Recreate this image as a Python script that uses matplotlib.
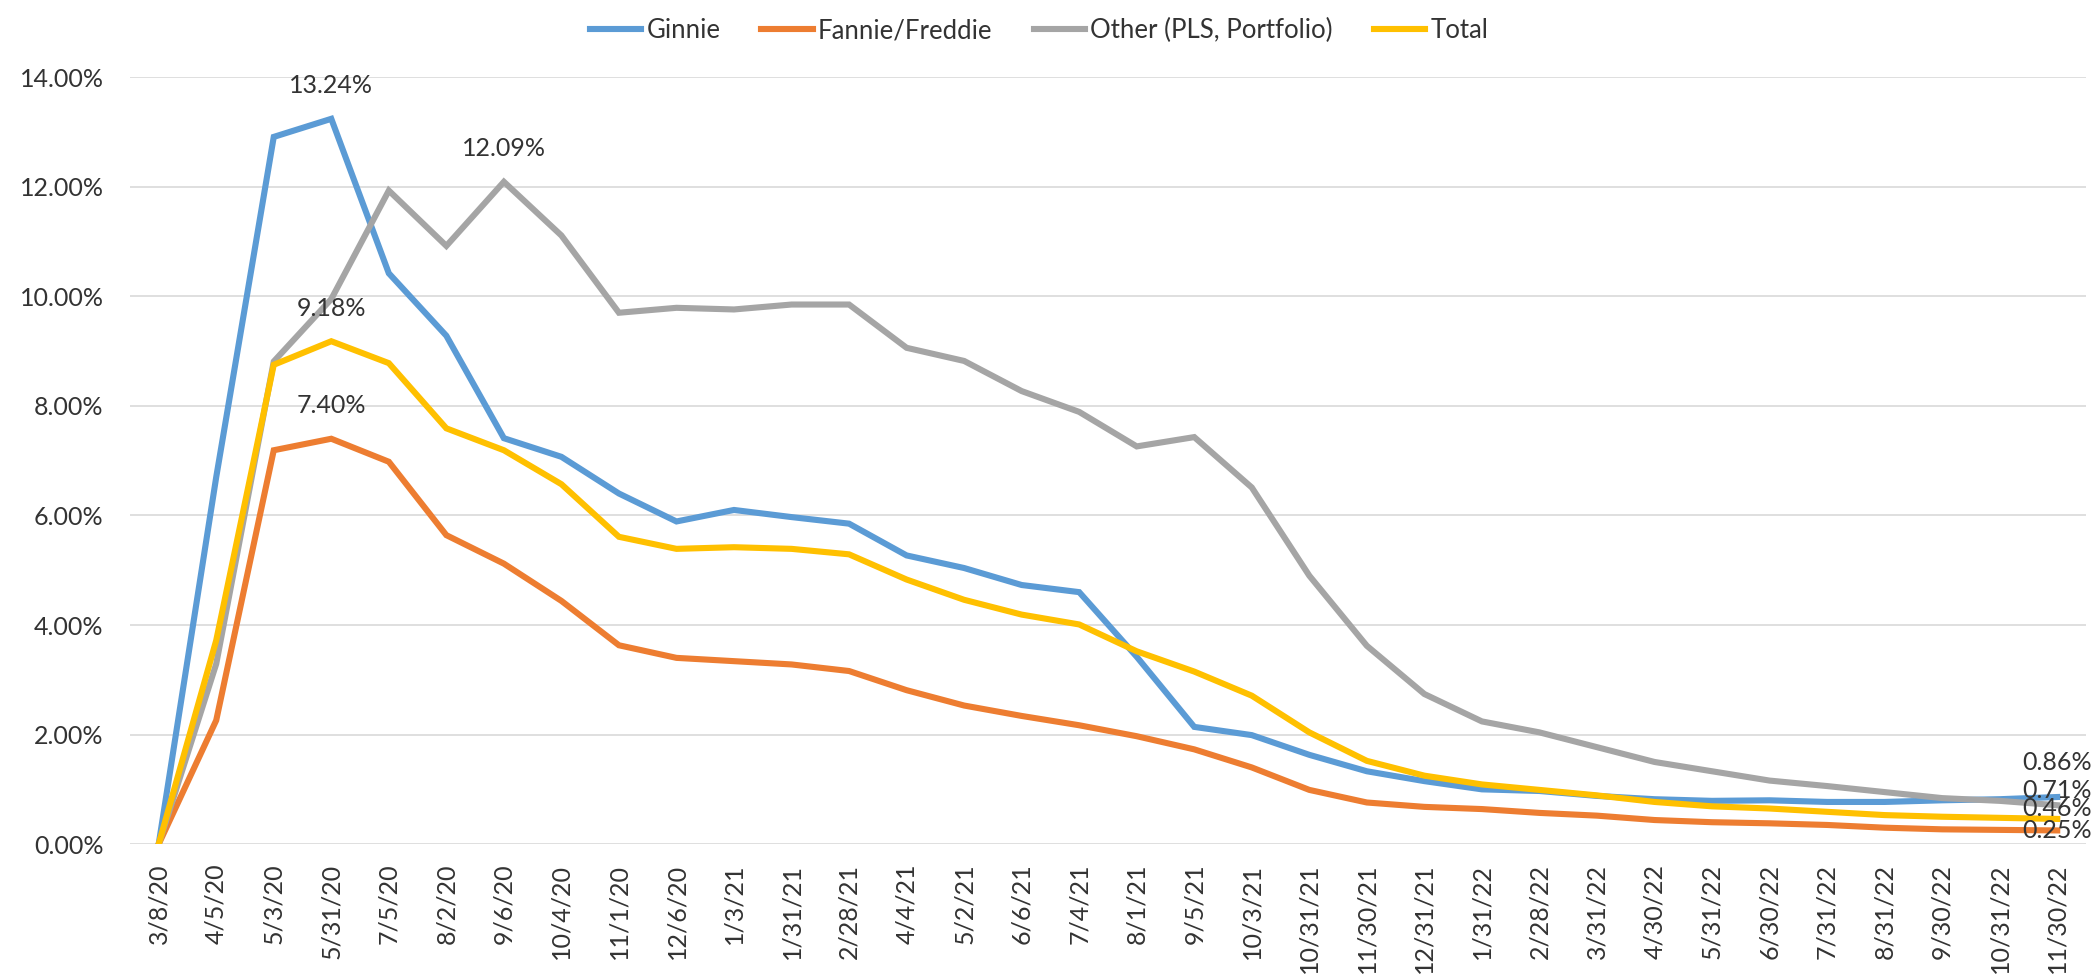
import matplotlib
matplotlib.use("Agg")
import matplotlib.pyplot as plt
from matplotlib.ticker import FuncFormatter

plt.rcParams['font.family'] = ['Lato', 'DejaVu Sans']

# forbearance rate by investor type, in percent
dates = ['3/8/20', '4/5/20', '5/3/20', '5/31/20', '7/5/20', '8/2/20', '9/6/20', '10/4/20',
         '11/1/20', '12/6/20', '1/3/21', '1/31/21', '2/28/21', '4/4/21', '5/2/21', '6/6/21',
         '7/4/21', '8/1/21', '9/5/21', '10/3/21', '10/31/21', '11/30/21', '12/31/21', '1/31/22',
         '2/28/22', '3/31/22', '4/30/22', '5/31/22', '6/30/22', '7/31/22', '8/31/22', '9/30/22',
         '10/31/22', '11/30/22']

ginnie = [0, 6.70, 12.91, 13.24, 10.42, 9.28, 7.41, 7.07, 6.40, 5.89, 6.10, 5.97, 5.85, 5.27,
          5.04, 4.73, 4.60, 3.42, 2.14, 1.99, 1.63, 1.33, 1.15, 1.00, 0.97, 0.88, 0.82, 0.79,
          0.80, 0.77, 0.77, 0.80, 0.82, 0.86]
fannie = [0, 2.26, 7.19, 7.40, 6.98, 5.64, 5.12, 4.44, 3.63, 3.40, 3.34, 3.28, 3.16, 2.81,
          2.53, 2.34, 2.17, 1.97, 1.73, 1.40, 0.99, 0.76, 0.68, 0.64, 0.57, 0.52, 0.44, 0.40,
          0.38, 0.35, 0.30, 0.27, 0.26, 0.25]
other = [0, 3.29, 8.81, 9.95, 11.93, 10.92, 12.09, 11.11, 9.70, 9.79, 9.76, 9.85, 9.85, 9.06,
         8.82, 8.27, 7.89, 7.26, 7.43, 6.51, 4.90, 3.62, 2.74, 2.24, 2.04, 1.77, 1.50, 1.33,
         1.16, 1.06, 0.95, 0.84, 0.79, 0.71]
total = [0, 3.72, 8.75, 9.18, 8.78, 7.59, 7.19, 6.57, 5.61, 5.39, 5.42, 5.39, 5.29, 4.83,
         4.46, 4.19, 4.01, 3.52, 3.15, 2.71, 2.04, 1.52, 1.25, 1.09, 0.99, 0.89, 0.77, 0.69,
         0.65, 0.59, 0.53, 0.50, 0.48, 0.46]

series_names = ['Ginnie', 'Fannie/Freddie', 'Other (PLS, Portfolio)', 'Total']
series_values = [ginnie, fannie, other, total]
colors = ['#5B9BD5', '#ED7D31', '#A5A5A5', '#FFC000']

# data labels: (series index, point index, vertical offset in pixels)
labels = [(0, 3, 33), (2, 6, 33), (3, 3, 33), (1, 3, 33),
          (0, 33, 35), (2, 33, 15), (3, 33, 10), (1, 33, 0)]

text_color = '#333333'

fig = plt.figure(figsize=(20.99, 9.77), dpi=100)
ax = fig.add_axes([0.0619, 0.136, 0.9319, 0.785])

x = list(range(len(dates)))
for name, vals, c in zip(series_names, series_values, colors):
    ax.plot(x, vals, color=c, lw=4.4, label=name, solid_joinstyle='miter')

for si, pi, off in labels:
    v = series_values[si][pi]
    ax.annotate(f'{v:.2f}%', (pi, v), xytext=(0, off), textcoords='offset pixels',
                ha='center', va='center', fontsize=18, color=text_color)

ax.set_xlim(-0.5, len(dates) - 0.5)
ax.set_ylim(0, 14)
ax.set_yticks([0, 2, 4, 6, 8, 10, 12, 14])
ax.yaxis.set_major_formatter(FuncFormatter(lambda v, p: f'{v:.2f}%'))
ax.set_xticks(x)
ax.set_xticklabels(dates, rotation=90)
ax.tick_params(axis='both', length=0, labelsize=18, colors=text_color)
ax.tick_params(axis='y', pad=19)
ax.tick_params(axis='x', pad=14)
ax.yaxis.grid(True, color='#D9D9D9', lw=1.2)
ax.set_axisbelow(True)
for s in ax.spines.values():
    s.set_visible(False)

fig.legend(loc='upper center', bbox_to_anchor=(0.495, 1.005), ncol=4, frameon=False,
           fontsize=18.5, handlelength=2.0, columnspacing=1.6, handletextpad=0.2,
           labelcolor=text_color)

fig.savefig('out.png', dpi=100)
